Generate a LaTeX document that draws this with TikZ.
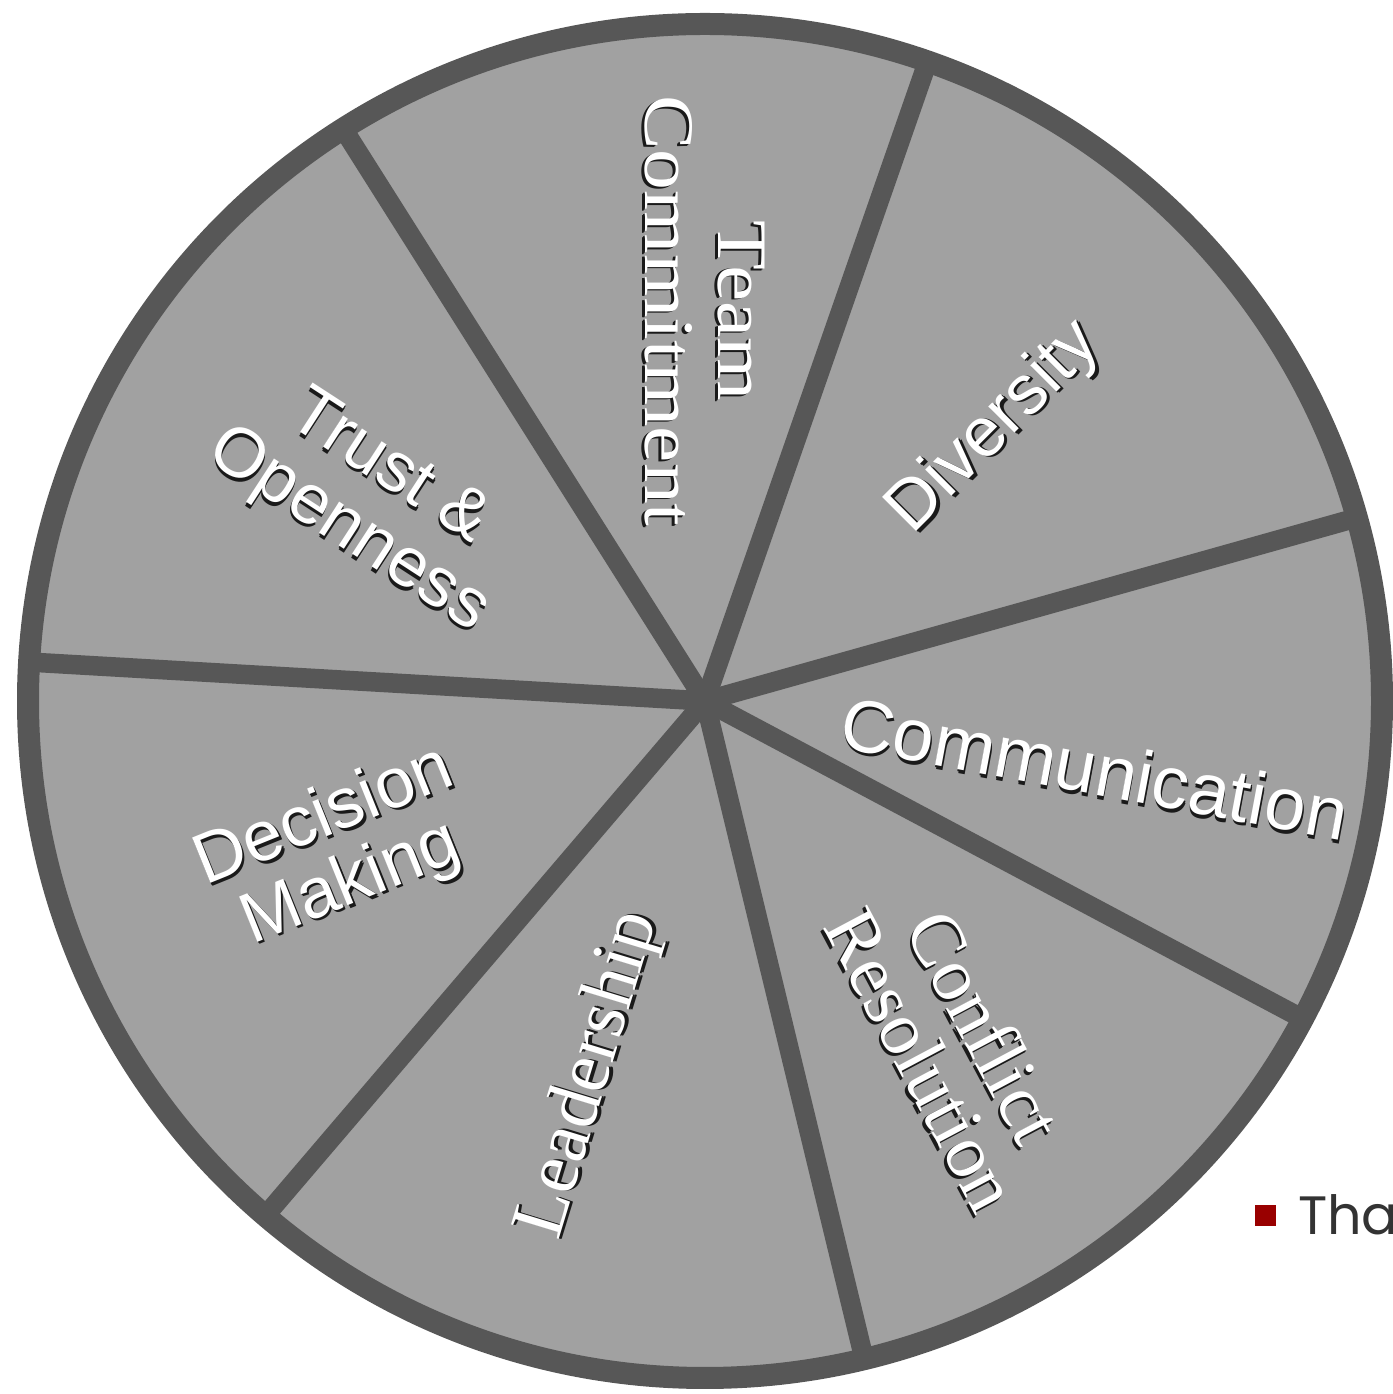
\documentclass[tikz,border=0pt]{standalone}
\usepackage{fontspec}
\setmainfont{Liberation Sans}
\newfontfamily\lserif{Liberation Serif}
\newfontfamily\lsans{Liberation Sans}
\newfontfamily\popf{Poppins}
\definecolor{ringc}{HTML}{575757}
\definecolor{piefill}{HTML}{A1A1A1}
\definecolor{shadc}{HTML}{1A1A1A}
\definecolor{thac}{HTML}{333333}
\definecolor{bulletred}{HTML}{990000}
\tikzset{
  spoke/.style={draw=ringc, line width=19.5pt},
  ring/.style={draw=ringc, line width=22pt},
  lbl/.style={inner sep=0pt, align=center},
}
\newcommand\wlabel[7]{%
  \begin{scope}[shift={(#2,1394-#3)}, rotate=#4, transform shape]
    \node[lbl, text=shadc, xscale=#5, font=#6] (#1s) at (1.5,-3.5) {#7};
    \node[lbl, text=shadc, xscale=#5, font=#6] (#1t) at (0.8,-1.8) {#7};
    \node[lbl, text=white, xscale=#5, font=#6] (#1) at (0,0) {#7};
  \end{scope}}
\begin{document}
\begin{tikzpicture}[x=1pt,y=1pt]
  \useasboundingbox (0,0) rectangle (1392,1394);
  \coordinate (c) at (705,693);
  \fill[piefill] (c) circle[radius=677];
  \foreach \a/\n in {70.8/s1,122.3/s2,176.7/s3,229.5/s4,283.6/s5,332.0/s6,15.7/s7}{
    \path (c) ++(\a:677) coordinate (\n);
  }
  \foreach \n in {s1,s2,s3,s4,s5,s6,s7}{
    \draw[spoke] (c) -- (\n);
  }
  \draw[ring] (c) circle[radius=677];

  \wlabel{team}{705}{311}{-90}{1.15}{\lserif\fontsize{71}{73}\selectfont}{Team\\Commitment}
  \wlabel{div}{995}{428}{45}{1}{\lsans\fontsize{70}{72}\selectfont}{Diversity}
  \wlabel{comm}{1095}{768}{-10.5}{1}{\lsans\fontsize{74}{75}\selectfont}{Communication}
  \wlabel{conf}{954}{1043}{-62}{1}{\lserif\fontsize{76}{71}\selectfont}{Conflict\\Resolution}
  \wlabel{lead}{590}{1075}{73}{1}{\lserif\fontsize{76}{76}\selectfont}{Leadership}
  \wlabel{dec}{338}{851}{22}{1}{\lsans\fontsize{71}{72}\selectfont}{Decision\\Making}
  \wlabel{trust}{368}{500}{-33}{1}{\lsans\fontsize{70}{74}\selectfont}{Trust \&\\Openness}

  \node[fill=bulletred, minimum size=21pt, inner sep=0pt] (bul) at (1265.5,178.5) {};
  \node[anchor=base west, inner sep=0pt, text=thac, font=\popf\fontsize{54}{60}\selectfont] (tha) at (1298,159) {Tha};
\end{tikzpicture}
\end{document}
